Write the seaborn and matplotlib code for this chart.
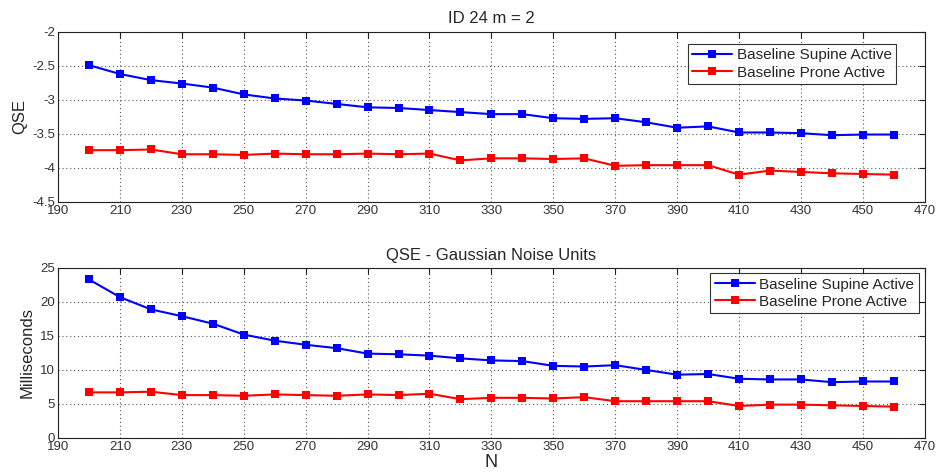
import matplotlib
matplotlib.use("Agg")
import matplotlib.pyplot as plt
import seaborn as sns
import pandas as pd
import numpy as np

N = list(range(200, 461, 10))
qse_supine = [-2.49, -2.62, -2.71, -2.76, -2.82, -2.92, -2.98, -3.01, -3.06, -3.11, -3.12, -3.15, -3.18, -3.21,
              -3.21, -3.27, -3.28, -3.27, -3.33, -3.41, -3.39, -3.48, -3.48, -3.49, -3.52, -3.51, -3.51]
qse_prone = [-3.74, -3.74, -3.73, -3.80, -3.80, -3.81, -3.79, -3.80, -3.80, -3.79, -3.80, -3.79, -3.89, -3.86,
             -3.86, -3.87, -3.86, -3.97, -3.96, -3.96, -3.96, -4.10, -4.04, -4.06, -4.08, -4.09, -4.10]
ms_supine = [23.3, 20.7, 18.9, 17.9, 16.8, 15.2, 14.3, 13.7, 13.2, 12.4, 12.3, 12.1, 11.7, 11.4,
             11.3, 10.6, 10.5, 10.7, 10.0, 9.3, 9.4, 8.7, 8.6, 8.6, 8.2, 8.3, 8.3]
ms_prone = [6.7, 6.7, 6.8, 6.3, 6.3, 6.2, 6.4, 6.3, 6.2, 6.4, 6.3, 6.5, 5.7, 5.9,
            5.9, 5.8, 6.0, 5.4, 5.4, 5.4, 5.4, 4.7, 4.9, 4.9, 4.8, 4.7, 4.6]
series_names = ["Baseline Supine Active", "Baseline Prone Active"]
titles = ["ID 24 m = 2", "QSE - Gaussian Noise Units"]
ylabels = ["QSE", "Milliseconds"]
xticks = list(range(190, 471, 20))
yticks_top = [-4.5, -4, -3.5, -3, -2.5, -2]
yticks_bot = [0, 5, 10, 15, 20, 25]

sns.set_style("white")
plt.rcParams['font.family'] = ['Liberation Sans', 'DejaVu Sans']

def make_df(a, b):
    return pd.DataFrame({
        "N": N * 2,
        "value": a + b,
        "series": [series_names[0]] * len(N) + [series_names[1]] * len(N),
    })

fig = plt.figure(figsize=(9.36, 4.75), dpi=100)
ax1 = fig.add_axes([0.062, 0.575, 0.926, 0.358])
ax2 = fig.add_axes([0.062, 0.078, 0.926, 0.358])

palette = {series_names[0]: "#0000ff", series_names[1]: "#ff0000"}

for ax, df, title, ylab, yt, anchor in [
    (ax1, make_df(qse_supine, qse_prone), titles[0], ylabels[0], yticks_top, (0.967, 0.929)),
    (ax2, make_df(ms_supine, ms_prone), titles[1], ylabels[1], yticks_bot, (0.993, 0.97)),
]:
    sns.lineplot(data=df, x="N", y="value", hue="series", palette=palette, ax=ax,
                 marker="s", markersize=5.6, markeredgewidth=0, linewidth=1.5, legend=True)
    ax.set_xlim(190, 470)
    ax.set_ylim(yt[0], yt[-1])
    ax.set_xticks(xticks)
    ax.set_yticks(yt)
    ax.set_yticklabels([f"{v:g}" for v in yt])
    ax.grid(True, linestyle=(0, (1, 2.5)), color="#555555", linewidth=0.8)
    ax.tick_params(direction="in", length=4, labelsize=9.5, top=True, right=True,
                   colors="#222222", labelcolor="#333333", pad=2)
    for s in ax.spines.values():
        s.set_color("#222222")
        s.set_linewidth(0.8)
    ax.set_title(title, fontsize=12, pad=6)
    ax.set_ylabel(ylab, fontsize=12, labelpad=4)
    ax.set_xlabel("")
    leg = ax.legend(loc="upper right", fontsize=11, frameon=True, fancybox=False,
                    edgecolor="black", borderpad=0.3, handlelength=2.6, labelspacing=0.2,
                    handletextpad=0.3, borderaxespad=0, bbox_to_anchor=anchor)
    leg.get_frame().set_linewidth(0.8)

ax2.set_xlabel("N", fontsize=13, labelpad=1)

fig.savefig("out.png", dpi=100)
